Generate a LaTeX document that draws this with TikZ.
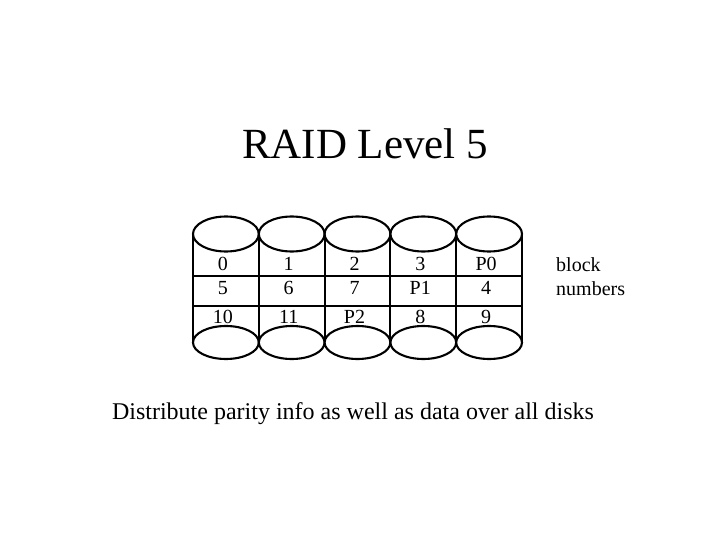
\documentclass[tikz,border=0pt]{standalone}
\usepackage{fontspec}
\setmainfont{Liberation Serif}
\begin{document}
\begin{tikzpicture}[x=1pt,y=-1pt,
  disk/.style={draw=black,line width=2.1pt,fill=white},
  grid/.style={draw=black,line width=2.1pt},
  cell/.style={anchor=base,inner sep=0pt,font=\fontsize{20}{24}\selectfont}]
\useasboundingbox (0,0) rectangle (720,540);
\node[anchor=base,inner sep=0pt,font=\fontsize{43}{50}\selectfont] (title) at (365,159) {RAID Level 5};
% grid lines
\foreach \i in {0,...,5} {
  \coordinate (t\i) at ({193+65.8*\i},234);
  \coordinate (b\i) at ({193+65.8*\i},342);
  \draw[grid] (t\i) -- (b\i);
}
\coordinate (h1l) at (193,276); \coordinate (h1r) at (522,276);
\coordinate (h2l) at (193,306); \coordinate (h2r) at (522,306);
\draw[grid] (h1l) -- (h1r);
\draw[grid] (h2l) -- (h2r);
% cell texts
\foreach \c/\a/\b/\d [count=\k from 0] in {0/5/10, 1/6/11, 2/7/P2, 3/P1/8, P0/4/9} {
  \node[cell] (r1c\k) at ({193+65.8*(\k+0.5)-3},270) {\c};
  \node[cell] (r2c\k) at ({193+65.8*(\k+0.5)-3},294) {\a};
  \node[cell] (r3c\k) at ({193+65.8*(\k+0.5)-3},323) {\b};
}
% disks
\foreach \k in {0,...,4} {
  \draw[disk] ({193+65.8*(\k+0.5)},234) ellipse [x radius=32.9,y radius=17.5];
  \draw[disk] ({193+65.8*(\k+0.5)},342.5) ellipse [x radius=32.9,y radius=16.5];
}
\node[anchor=base west,inner sep=0pt,font=\fontsize{20}{24}\selectfont] (blk) at (556,271) {block};
\node[anchor=base west,inner sep=0pt,font=\fontsize{20}{24}\selectfont] (num) at (556,295) {numbers};
\node[anchor=base,inner sep=0pt,font=\fontsize{24}{28}\selectfont] (cap) at (353,419) {Distribute parity info as well as data over all disks};
\end{tikzpicture}
\end{document}
